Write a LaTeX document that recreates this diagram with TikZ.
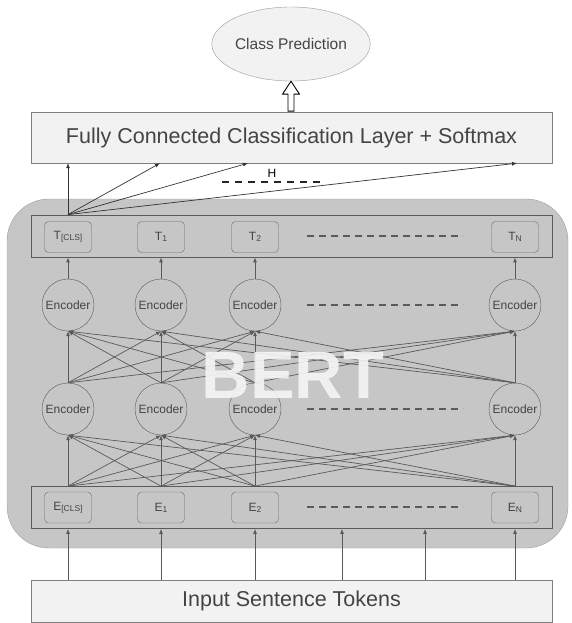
\documentclass[tikz,border=0pt]{standalone}
\usepackage{fontspec}
\setmainfont{Liberation Sans}
\usetikzlibrary{shapes.geometric,arrows.meta}
\definecolor{bertgray}{HTML}{C6C6C6}
\definecolor{boxfill}{HTML}{F2F2F2}
\definecolor{linegray}{HTML}{5A5A5A}
\definecolor{textgray}{HTML}{444444}
\newcommand{\tokidx}[1]{\raisebox{-1pt}{\fontsize{8.5}{8.5}\selectfont #1}}
\tikzset{
  layer/.style={draw=gray, fill=boxfill, minimum width=521pt, minimum height=51pt, inner sep=0pt,
    text=textgray, font=\fontsize{21.5}{21.5}\selectfont},
  rowbox/.style={draw=linegray, line width=0.8pt, minimum width=521pt, minimum height=42pt, inner sep=0pt},
  tok/.style={draw=linegray!90, rounded corners=4pt, minimum width=47pt, minimum height=31pt, inner sep=0pt,
    text=textgray, font=\fontsize{12}{12}\selectfont},
  enc/.style={circle, draw=linegray, minimum size=52pt, inner sep=0pt, text=textgray,
    font=\fontsize{12}{12}\selectfont},
  link/.style={draw=linegray, line width=0.7pt, -{Latex[length=5pt,width=4pt]}},
  dots/.style={draw=linegray, line width=1.2pt, dash pattern=on 7pt off 5pt}
}
\begin{document}
\begin{tikzpicture}[x=1pt,y=-1pt]
\useasboundingbox (0,0) rectangle (571,623);
\draw[draw=gray!75, fill=bertgray, rounded corners=42pt] (7,199) rectangle (568,548);

\node[ellipse, draw=gray!80, fill=boxfill, minimum width=124pt, minimum height=74pt, inner sep=0pt,
  text=textgray, font=\fontsize{15.5}{15.5}\selectfont] (pred) at (291,44) {Class Prediction};
\node[layer] (fc) at (291.5,137.5) {Fully Connected Classification Layer + Softmax};
\node[layer, minimum height=42pt] (input) at (291.5,601) {Input Sentence Tokens};
\node[rowbox] (trow) at (291.5,236) {};
\node[rowbox] (erow) at (291.5,507.5) {};

\foreach \i/\x/\s in {0/68/{[CLS]},1/161/1,2/255/2,3/515/N}{
  \node[tok] (t\i) at (\x,237) {T\tokidx{\s}};
  \node[enc] (up\i) at (\x,305) {Encoder};
  \node[enc] (lo\i) at (\x,409) {Encoder};
  \node[tok] (e\i) at (\x,507.5) {E\tokidx{\s}};
}

\foreach \y in {236,305,409,507}
  \draw[dots] (307,\y) -- (463,\y);

\foreach \i in {0,...,3}{
  \draw[link] (up\i.north) -- (up\i |- trow.south);
  \draw[link] (e\i |- input.north) -- (e\i |- erow.south);
  \foreach \j in {0,...,3}{
    \draw[link] (lo\i.north) -- (up\j.south);
    \draw[link] (e\i |- erow.north) -- (lo\j.south);
  }
}
\coordinate (gapa) at (342,0);
\coordinate (gapb) at (425,0);
\draw[link] (gapa |- input.north) -- (gapa |- erow.south);
\draw[link] (gapb |- input.north) -- (gapb |- erow.south);

\coordinate (cls) at (t0 |- trow.north);
\coordinate (ha) at (160,0);
\coordinate (hb) at (248,0);
\coordinate (hc) at (517,0);
\draw[link, draw=black!80] (cls) -- (cls |- fc.south);
\draw[link, draw=black!80] (cls) -- (ha |- fc.south);
\draw[link, draw=black!80] (cls) -- (hb |- fc.south);
\draw[link, draw=black!80] (cls) -- (hc |- fc.south);
\node[font=\fontsize{12}{12}\selectfont] (hlabel) at (272,173) {H};
\draw[dots, draw=black!85, line width=1.5pt, dash pattern=on 7pt off 6pt] (222,182) -- (326,182);

\draw[line width=0.9pt, fill=white] (pred.south) -- ++(8.5,13) -- ++(-5.5,0) -- ++(0,17)
  -- ++(-6,0) -- ++(0,-17) -- ++(-5.5,0) -- cycle;

\node[anchor=base, inner sep=0pt, text=white!96!black, opacity=0.9, font=\bfseries\fontsize{67}{67}\selectfont] (bert) at (293,398) {BERT};
\end{tikzpicture}
\end{document}
